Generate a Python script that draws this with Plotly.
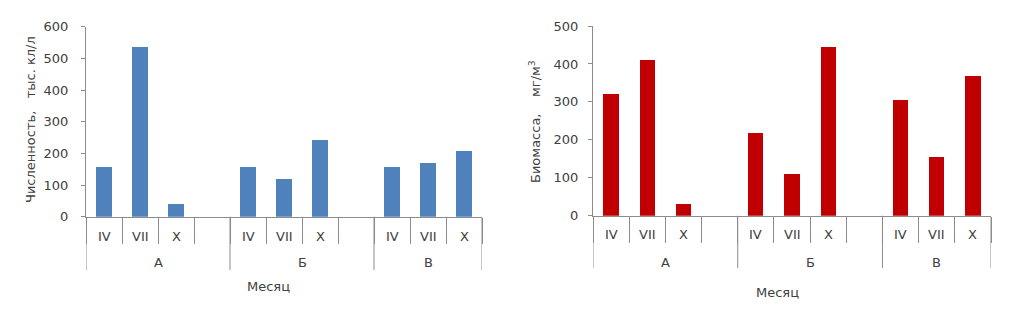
import plotly.graph_objects as go

# ---- data ----
months = ["IV", "VII", "X", "", "IV", "VII", "X", "", "IV", "VII", "X"]
groups = ["А", "Б", "В"]
group_slots = [[0, 1, 2, 3], [4, 5, 6, 7], [8, 9, 10]]
abundance = [158, 537, 40, None, 158, 121, 242, None, 158, 170, 207]   # тыс. кл/л
biomass = [322, 410, 31, None, 217, 110, 445, None, 306, 155, 368]     # мг/м3
y1_ticks = [0, 100, 200, 300, 400, 500, 600]
y2_ticks = [0, 100, 200, 300, 400, 500]

W, H = 1016, 318
FONT = "DejaVu Sans"
TXT = "#404040"
AX = "#8c8c8c"

def px_x(v):
    return v / W

def px_y(v):
    return (H - v) / H

fig = go.Figure()
xs = list(range(len(months)))
fig.add_trace(go.Bar(x=xs, y=abundance, marker=dict(color="#4F81BD", line=dict(width=0)),
                     width=0.42, xaxis="x", yaxis="y", showlegend=False))
fig.add_trace(go.Bar(x=xs, y=biomass, marker=dict(color="#C00000", line=dict(width=0)),
                     width=0.42, xaxis="x2", yaxis="y2", showlegend=False))

panels = [
    dict(xa="x", ya="y", x0=86, x1=482, ybot=216.7, ytop=26.7, rng=[0, 600], ticks=y1_ticks,
         minor_bot=243, major_bot=270, month_y=236, group_y=262, title_x=268, title_y=286,
         standoff=10,
         ylabel="Численность,\u00a0\u00a0\u00a0тыс. кл/л", ylabel_x=30, ylabel_y=120),
    dict(xa="x2", ya="y2", x0=593, x1=991, ybot=215.7, ytop=26, rng=[0, 500], ticks=y2_ticks,
         minor_bot=242, major_bot=268, month_y=235, group_y=262, title_x=777, title_y=292,
         standoff=7,
         ylabel="Биомасса,\u00a0\u00a0\u00a0\u00a0мг/м<sup>3</sup>", ylabel_x=535, ylabel_y=122),
]

layout = dict(width=W, height=H, margin=dict(l=0, r=0, t=0, b=0, autoexpand=False),
              paper_bgcolor="white", plot_bgcolor="white", bargap=0,
              font=dict(family=FONT, size=12, color=TXT))
shapes, annotations = [], []
n = len(months)
boundaries = [i - 0.5 for i in range(n + 1)]
group_bounds = [-0.5, 3.5, 7.5, n - 0.5]

for k, p in enumerate(panels):
    sfx = "" if k == 0 else str(k + 1)
    layout["xaxis" + sfx] = dict(domain=[px_x(p["x0"]), px_x(p["x1"])], range=[-0.5, n - 0.5],
                                 anchor=p["ya"], showgrid=False, zeroline=False, showline=True,
                                 linecolor=AX, linewidth=1, showticklabels=False, automargin=False,
                                 tickvals=boundaries, ticks="outside", ticklen=p["minor_bot"] - p["ybot"],
                                 tickcolor=AX, tickwidth=1)
    layout["yaxis" + sfx] = dict(domain=[px_y(p["ybot"]), px_y(p["ytop"])], range=p["rng"],
                                 anchor=p["xa"], showgrid=False, zeroline=False, showline=True,
                                 linecolor=AX, linewidth=1, tickvals=p["ticks"], ticks="outside",
                                 automargin=False, ticklen=4, tickcolor=AX,
                                 ticklabelstandoff=p["standoff"],
                                 tickfont=dict(size=13, color=TXT))
    for b in group_bounds:
        shapes.append(dict(type="line", xref=p["xa"], yref="paper", x0=b, x1=b,
                           y0=px_y(p["ybot"]), y1=px_y(p["major_bot"]), line=dict(color=AX, width=1)))
    for i, m in enumerate(months):
        if m:
            annotations.append(dict(x=i, y=px_y(p["month_y"]), xref=p["xa"], yref="paper", text=m,
                                    showarrow=False, xanchor="center", yanchor="middle",
                                    font=dict(size=13, color=TXT)))
    for g, slots in zip(groups, group_slots):
        annotations.append(dict(x=(slots[0] + slots[-1]) / 2, y=px_y(p["group_y"]), xref=p["xa"],
                                yref="paper", text=g, showarrow=False, xanchor="center",
                                yanchor="middle", font=dict(size=13, color=TXT)))
    annotations.append(dict(x=px_x(p["title_x"]), y=px_y(p["title_y"]), xref="paper", yref="paper",
                            text="Месяц", showarrow=False, xanchor="center", yanchor="middle",
                            font=dict(size=13, color=TXT)))
    annotations.append(dict(x=px_x(p["ylabel_x"]), y=px_y(p["ylabel_y"]), xref="paper", yref="paper",
                            text=p["ylabel"], textangle=-90, showarrow=False, xanchor="center",
                            yanchor="middle", font=dict(size=13, color=TXT)))

layout["shapes"] = shapes
layout["annotations"] = annotations
fig.update_layout(**layout)
fig.write_html("out.html", config={"displayModeBar": False},
               post_script="document.body.style.margin='0px';")
